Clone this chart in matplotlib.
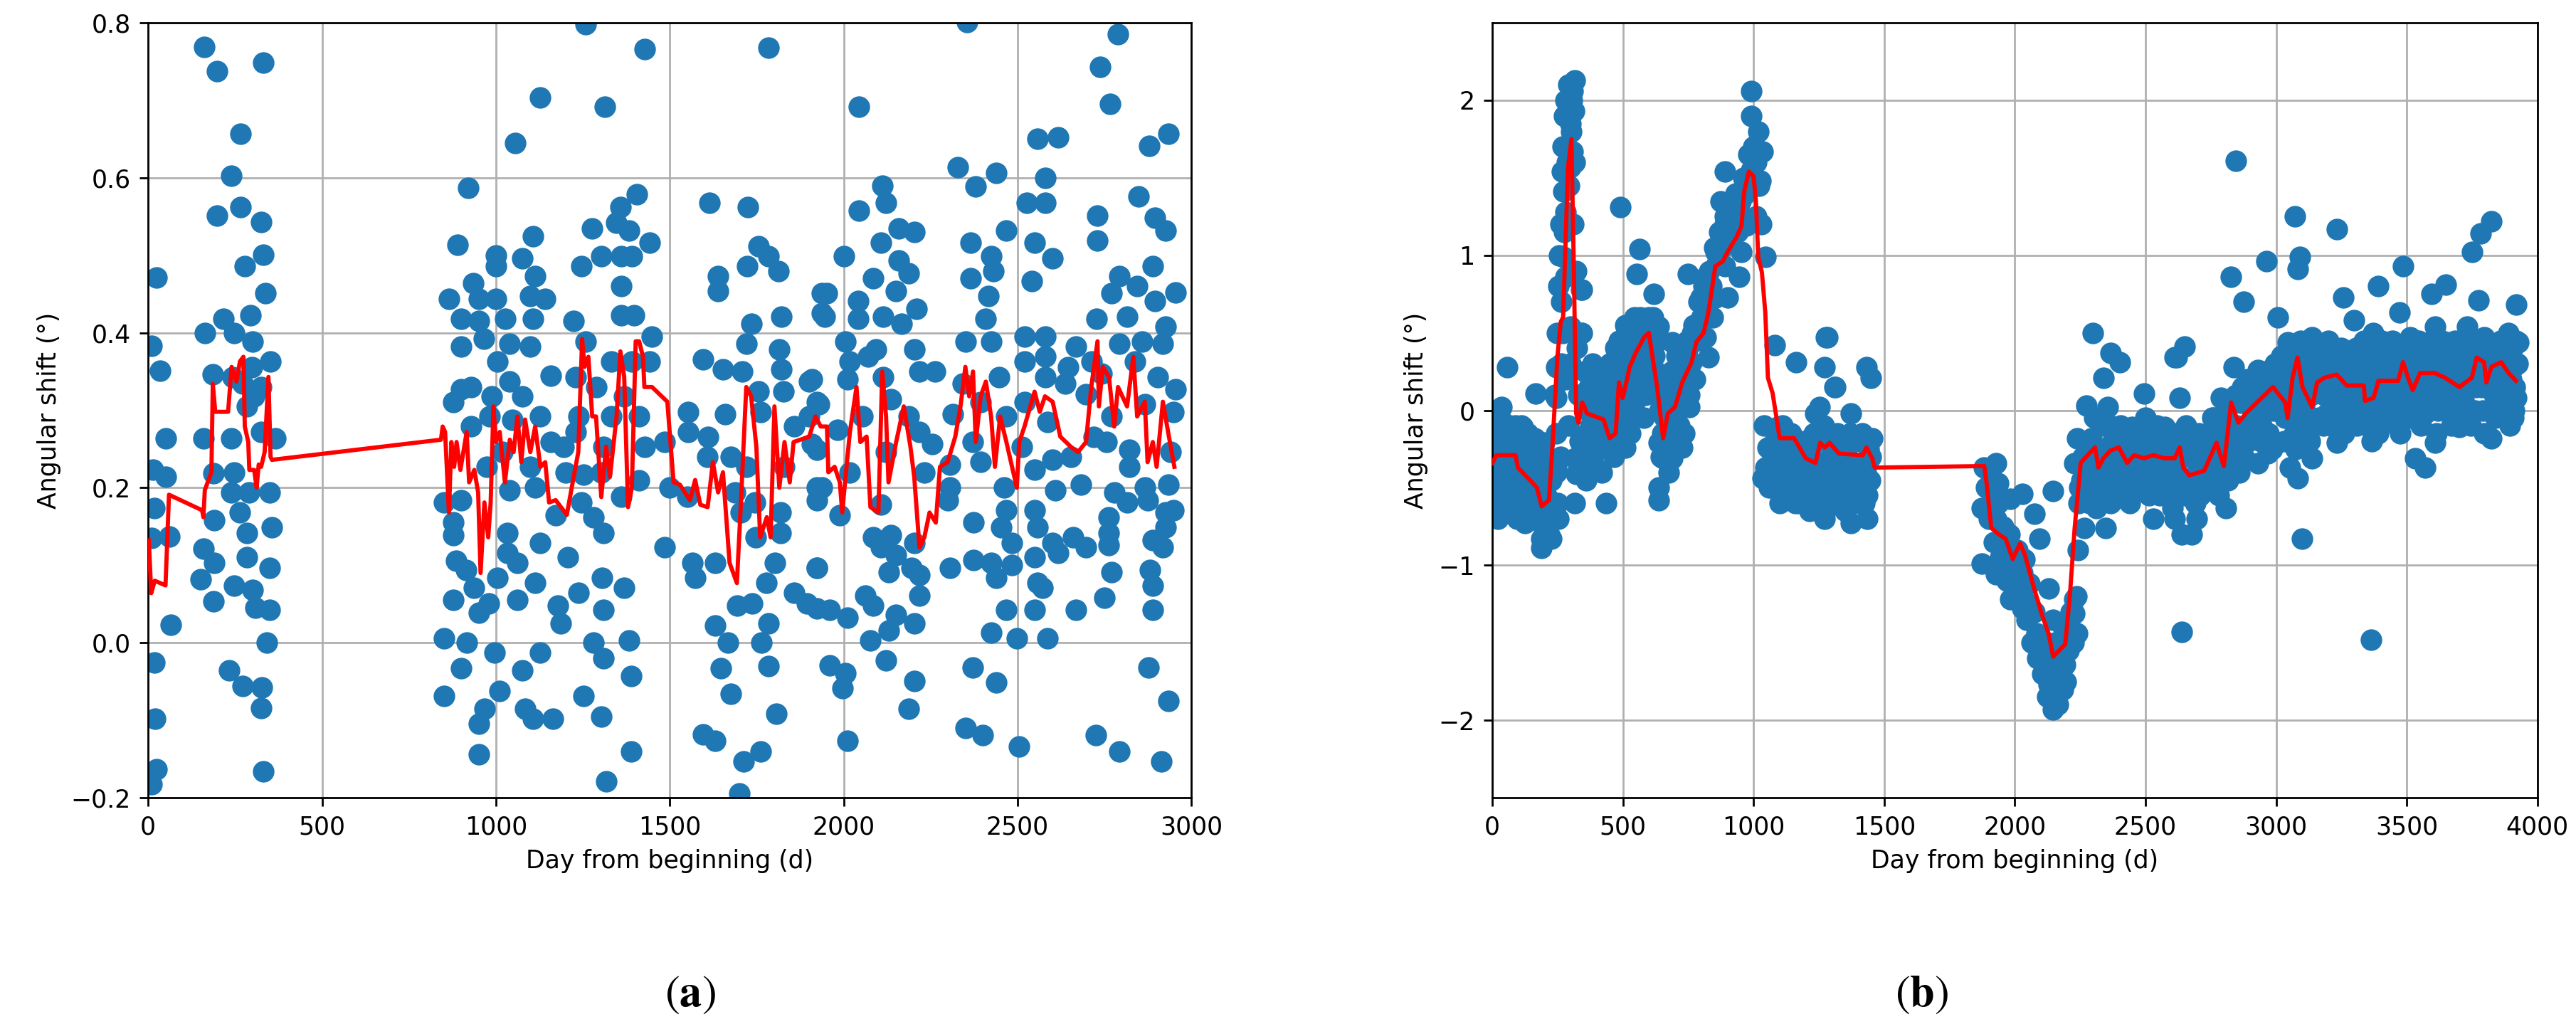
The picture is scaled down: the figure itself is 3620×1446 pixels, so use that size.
import numpy as np
import matplotlib.pyplot as plt

# ---- (a) scatter points, (day, angular shift) ----
a_first = [
    (162, 0.769), (199, 0.738), (332, 0.749), (265, 0.657), (240, 0.603), (199, 0.551),
    (265, 0.562), (325, 0.543), (332, 0.501), (278, 0.486), (25, 0.471), (337, 0.451),
    (295, 0.423), (216, 0.418), (163, 0.40), (247, 0.40), (301, 0.389), (10, 0.383),
    (35, 0.351), (352, 0.363), (186, 0.346), (244, 0.343), (271, 0.334), (298, 0.356),
    (305, 0.318), (284, 0.305), (325, 0.33), (51, 0.264), (159, 0.264), (240, 0.264),
    (366, 0.264), (325, 0.272), (14, 0.223), (51, 0.214), (188, 0.219), (247, 0.22),
    (240, 0.194), (291, 0.194), (349, 0.194), (18, 0.174), (189, 0.158), (264, 0.168),
    (356, 0.149), (61, 0.137), (10, 0.135), (159, 0.121), (189, 0.103), (284, 0.142),
    (284, 0.11), (349, 0.097), (152, 0.082), (247, 0.074), (301, 0.068), (188, 0.053),
    (308, 0.045), (349, 0.042), (65, 0.023), (342, 0.0), (18, -0.026), (233, -0.036),
    (271, -0.056), (328, -0.058), (325, -0.084), (20, -0.098), (332, -0.166),
    (25, -0.163), (10, -0.183),
]
a_second = [
    (1259, 0.798), (1427, 0.766), (1128, 0.704), (1314, 0.692), (1055, 0.645), (921, 0.587),
    (1785, 0.768), (1405, 0.579), (1358, 0.562), (1615, 0.568), (1725, 0.562), (1277, 0.535),
    (1347, 0.542), (1383, 0.532), (1442, 0.516), (890, 0.514), (1000, 0.50), (1077, 0.496),
    (1106, 0.525), (1245, 0.486), (1303, 0.499), (1361, 0.499), (1391, 0.499), (1000, 0.486),
    (1639, 0.473), (1755, 0.512), (1723, 0.486), (1783, 0.499), (1812, 0.48), (1113, 0.473),
    (934, 0.464), (1361, 0.46), (1639, 0.454), (865, 0.444), (952, 0.444), (1000, 0.444),
    (1099, 0.447), (1142, 0.444), (1938, 0.451), (900, 0.418), (952, 0.415), (1026, 0.418),
    (1106, 0.418), (1223, 0.415), (1361, 0.423), (1398, 0.423), (1821, 0.421), (1938, 0.425),
    (1734, 0.412), (900, 0.382), (966, 0.392), (1040, 0.386), (1099, 0.382), (1259, 0.389),
    (1449, 0.395), (1720, 0.386), (1815, 0.379), (1596, 0.366), (1004, 0.363), (1157, 0.345),
    (1230, 0.343), (1332, 0.363), (1391, 0.363), (1442, 0.363), (1653, 0.353), (1709, 0.35),
    (1821, 0.353), (1901, 0.337), (1040, 0.337), (900, 0.327), (929, 0.33), (988, 0.318),
    (1077, 0.318), (1288, 0.33), (1369, 0.318), (1755, 0.324), (1828, 0.324), (878, 0.311),
    (1923, 0.311), (1552, 0.298), (1660, 0.295), (982, 0.292), (1048, 0.288), (1128, 0.292),
    (1237, 0.292), (1332, 0.292), (1412, 0.292), (1762, 0.298), (1901, 0.292), (929, 0.279),
    (1230, 0.272), (1552, 0.272), (1610, 0.266), (1858, 0.279), (1157, 0.259), (1018, 0.246),
    (1194, 0.253), (1310, 0.253), (1427, 0.253), (1485, 0.259), (1675, 0.24), (1923, 0.249),
    (974, 0.227), (1099, 0.227), (1201, 0.22), (1252, 0.217), (1303, 0.22), (1412, 0.21),
    (1609, 0.24), (1720, 0.227), (1830, 0.227), (1923, 0.2), (850, 0.181), (900, 0.184),
    (1040, 0.197), (1113, 0.2), (1245, 0.181), (1361, 0.188), (1500, 0.2), (1551, 0.188),
    (1688, 0.194), (1745, 0.181), (1818, 0.168), (878, 0.155), (1172, 0.165), (1281, 0.162),
    (1704, 0.168), (1033, 0.142), (1310, 0.142), (1818, 0.142), (878, 0.139), (1485, 0.123),
    (1748, 0.136), (1033, 0.116), (1128, 0.129), (1208, 0.11), (885, 0.106), (914, 0.094),
    (1062, 0.103), (1566, 0.103), (1631, 0.103), (1803, 0.103), (1923, 0.097), (936, 0.071),
    (1004, 0.084), (1113, 0.077), (1306, 0.084), (1573, 0.084), (1777, 0.077), (1858, 0.064),
    (1368, 0.071), (878, 0.055), (951, 0.039), (980, 0.051), (1062, 0.055), (1179, 0.048),
    (1237, 0.064), (1310, 0.042), (1894, 0.051), (1693, 0.048), (1737, 0.051), (1186, 0.025),
    (850, 0.006), (916, 0.0), (1631, 0.022), (1784, 0.025), (1763, 0.0), (1281, 0.0),
    (1383, 0.003), (1667, 0.0), (996, -0.013), (1128, -0.013), (901, -0.033), (1077, -0.036),
    (1310, -0.02), (1646, -0.033), (1784, -0.03), (1390, -0.043), (850, -0.069),
    (1011, -0.062), (1252, -0.069), (1675, -0.066), (1806, -0.092), (967, -0.085),
    (1084, -0.085), (1106, -0.098), (1164, -0.098), (1303, -0.095), (952, -0.105),
    (1595, -0.118), (1631, -0.127), (952, -0.144), (1390, -0.14), (1762, -0.14),
    (1712, -0.153), (1317, -0.179), (1700, -0.195),
]
a_third = [
    (2354, 0.801), (2789, 0.785), (2737, 0.743), (2767, 0.695), (2043, 0.692), (2933, 0.657),
    (2878, 0.641), (2557, 0.65), (2616, 0.652), (2328, 0.614), (2439, 0.606), (2380, 0.589),
    (2579, 0.6), (2111, 0.59), (2044, 0.558), (2122, 0.568), (2527, 0.568), (2579, 0.568),
    (2848, 0.576), (2730, 0.551), (2896, 0.548), (2925, 0.532), (2159, 0.535), (2203, 0.53),
    (2468, 0.532), (2730, 0.519), (2365, 0.516), (2549, 0.516), (2107, 0.516), (2000, 0.499),
    (2424, 0.499), (2601, 0.496), (2159, 0.493), (2431, 0.48), (2188, 0.477), (2085, 0.47),
    (2365, 0.47), (2542, 0.467), (2793, 0.473), (2889, 0.486), (2955, 0.452), (1952, 0.451),
    (2041, 0.441), (2151, 0.454), (2416, 0.447), (2770, 0.451), (2896, 0.441), (2844, 0.46),
    (2210, 0.431), (1945, 0.421), (2041, 0.418), (2114, 0.421), (2409, 0.418), (2727, 0.418),
    (2815, 0.421), (2926, 0.408), (2166, 0.412), (2350, 0.389), (2424, 0.389), (2520, 0.395),
    (2579, 0.395), (2667, 0.382), (2793, 0.386), (2918, 0.386), (2004, 0.389), (2092, 0.379),
    (2203, 0.379), (2859, 0.389), (2018, 0.363), (2070, 0.369), (2520, 0.363), (2579, 0.369),
    (2837, 0.363), (2712, 0.363), (2645, 0.356), (2218, 0.35), (2262, 0.35), (1908, 0.34),
    (2011, 0.34), (2114, 0.343), (2446, 0.343), (2579, 0.343), (2741, 0.347), (2904, 0.343),
    (2343, 0.334), (2638, 0.334), (2955, 0.327), (1930, 0.308), (2136, 0.314), (2394, 0.311),
    (2520, 0.311), (2697, 0.321), (2866, 0.308), (2948, 0.298), (2313, 0.295), (2055, 0.292),
    (2188, 0.292), (2468, 0.292), (2586, 0.285), (2770, 0.292), (1982, 0.275), (2218, 0.272),
    (2254, 0.256), (2719, 0.266), (2756, 0.259), (2372, 0.259), (2512, 0.253), (1908, 0.256),
    (2822, 0.249), (2122, 0.246), (2601, 0.236), (2653, 0.24), (2940, 0.246), (2018, 0.22),
    (2306, 0.23), (2394, 0.233), (2822, 0.227), (2232, 0.22), (2549, 0.223), (2682, 0.204),
    (2933, 0.204), (1938, 0.2), (2306, 0.2), (2461, 0.2), (2866, 0.2), (2778, 0.194),
    (2608, 0.197), (1923, 0.184), (2107, 0.178), (2299, 0.184), (2815, 0.181), (2874, 0.184),
    (2948, 0.171), (1989, 0.165), (2468, 0.171), (2549, 0.171), (2925, 0.168), (2763, 0.162),
    (2373, 0.155), (2454, 0.149), (2557, 0.149), (2925, 0.149), (2763, 0.142), (2085, 0.136),
    (2136, 0.139), (2660, 0.136), (2889, 0.132), (2203, 0.129), (2107, 0.123), (2483, 0.129),
    (2601, 0.129), (2697, 0.123), (2763, 0.126), (2918, 0.123), (2151, 0.113), (2549, 0.11),
    (2616, 0.116), (1923, 0.097), (2196, 0.097), (2306, 0.097), (2373, 0.107), (2424, 0.103),
    (2483, 0.1), (2881, 0.094), (2129, 0.091), (2770, 0.091), (2218, 0.087), (2439, 0.084),
    (2557, 0.077), (2889, 0.074), (2063, 0.061), (2218, 0.061), (2749, 0.058), (2571, 0.071),
    (1923, 0.044), (1960, 0.042), (2085, 0.048), (2151, 0.036), (2468, 0.042), (2549, 0.042),
    (2667, 0.042), (2889, 0.042), (2011, 0.032), (2203, 0.025), (2129, 0.016), (2424, 0.013),
    (2498, 0.006), (2586, 0.006), (2077, 0.003), (1960, -0.029), (2004, -0.039),
    (2122, -0.023), (2372, -0.032), (2877, -0.032), (1996, -0.059), (2203, -0.049),
    (2439, -0.051), (2188, -0.085), (2933, -0.075), (2350, -0.11), (2399, -0.119),
    (2726, -0.119), (2011, -0.127), (2505, -0.134), (2793, -0.14), (2914, -0.153),
]

# ---- (a) red running line ----
a_line = [
    (2, 0.132), (9, 0.064), (19, 0.08), (50, 0.074), (60, 0.191), (155, 0.171), (159, 0.162),
    (163, 0.197), (182, 0.22), (186, 0.334), (193, 0.298), (230, 0.298), (240, 0.356),
    (254, 0.337), (264, 0.363), (274, 0.369), (278, 0.279), (288, 0.259), (291, 0.223),
    (305, 0.223), (312, 0.2), (318, 0.23), (325, 0.227), (335, 0.246), (346, 0.343),
    (352, 0.24), (356, 0.236), (842, 0.262), (847, 0.279), (854, 0.272), (865, 0.168),
    (872, 0.259), (880, 0.227), (887, 0.259), (898, 0.223), (916, 0.272), (923, 0.207),
    (938, 0.223), (949, 0.194), (956, 0.09), (967, 0.181), (978, 0.136), (985, 0.181),
    (993, 0.305), (1000, 0.259), (1011, 0.272), (1026, 0.207), (1040, 0.262), (1051, 0.246),
    (1062, 0.292), (1073, 0.233), (1084, 0.288), (1099, 0.246), (1113, 0.279), (1128, 0.227),
    (1142, 0.233), (1153, 0.181), (1172, 0.184), (1204, 0.165), (1218, 0.2), (1237, 0.246),
    (1248, 0.392), (1255, 0.356), (1266, 0.369), (1277, 0.292), (1288, 0.292), (1303, 0.188),
    (1317, 0.253), (1328, 0.214), (1347, 0.292), (1358, 0.376), (1369, 0.343), (1380, 0.175),
    (1391, 0.2), (1402, 0.389), (1412, 0.389), (1423, 0.369), (1427, 0.33), (1449, 0.33),
    (1493, 0.311), (1511, 0.207), (1529, 0.204), (1558, 0.184), (1573, 0.21), (1588, 0.178),
    (1609, 0.175), (1624, 0.233), (1639, 0.194), (1653, 0.22), (1672, 0.103), (1693, 0.077),
    (1704, 0.175), (1720, 0.33), (1734, 0.318), (1749, 0.253), (1760, 0.136), (1779, 0.162),
    (1790, 0.136), (1801, 0.305), (1815, 0.2), (1830, 0.259), (1845, 0.207), (1856, 0.259),
    (1901, 0.266), (1919, 0.292), (1934, 0.279), (1952, 0.279), (1956, 0.22), (1974, 0.227),
    (1989, 0.207), (1996, 0.168), (2004, 0.207), (2018, 0.272), (2037, 0.33), (2048, 0.259),
    (2066, 0.266), (2077, 0.175), (2100, 0.168), (2111, 0.35), (2122, 0.292), (2129, 0.207),
    (2151, 0.259), (2173, 0.305), (2192, 0.253), (2203, 0.214), (2218, 0.123), (2232, 0.136),
    (2247, 0.168), (2265, 0.155), (2277, 0.227), (2299, 0.233), (2321, 0.266), (2336, 0.305),
    (2350, 0.356), (2361, 0.318), (2372, 0.35), (2380, 0.259), (2394, 0.318), (2409, 0.337),
    (2424, 0.292), (2435, 0.227), (2450, 0.292), (2468, 0.259), (2498, 0.2), (2505, 0.259),
    (2520, 0.279), (2549, 0.324), (2564, 0.298), (2579, 0.318), (2601, 0.311), (2623, 0.266),
    (2653, 0.253), (2674, 0.246), (2697, 0.259), (2712, 0.33), (2730, 0.389), (2734, 0.305),
    (2745, 0.356), (2763, 0.343), (2778, 0.279), (2789, 0.33), (2815, 0.305), (2833, 0.369),
    (2844, 0.292), (2866, 0.311), (2874, 0.233), (2889, 0.259), (2900, 0.227), (2918, 0.311),
    (2933, 0.272), (2951, 0.227),
]

# ---- (b) scatter points ----
b_start = [
    (57, 0.28), (167, 0.11), (35, 0.02), (16, -0.11), (71, -0.15), (117, -0.11), (162, -0.18),
    (199, -0.21), (26, -0.28), (89, -0.31), (144, -0.34), (53, -0.41), (7, -0.5), (117, -0.47),
    (62, -0.57), (16, -0.63), (126, -0.73), (162, -0.67), (189, -0.83), (217, -0.8), (35, -0.44),
    (80, -0.15), (44, -0.21), (5, -0.2), (10, -0.35), (20, -0.45), (30, -0.05), (40, -0.3),
    (50, -0.55), (60, -0.2), (70, -0.4), (80, -0.6), (90, -0.1), (100, -0.45), (110, -0.25),
    (120, -0.55), (130, -0.35), (140, -0.6), (150, -0.2), (160, -0.45), (170, -0.55),
    (180, -0.65), (190, -0.4), (200, -0.5), (210, -0.7), (220, -0.6), (15, -0.6), (45, -0.65),
    (75, -0.5), (105, -0.65), (135, -0.15), (165, -0.3), (195, -0.75), (225, -0.45),
    (25, -0.15), (55, -0.35), (85, -0.25), (115, -0.4), (145, -0.5), (175, -0.2), (205, -0.35),
    (3, -0.4), (8, -0.55), (12, -0.25), (22, -0.7), (28, -0.35), (33, -0.55), (38, -0.15),
    (48, -0.45), (58, -0.65), (65, -0.3), (68, -0.1), (78, -0.35), (88, -0.5), (95, -0.7),
    (98, -0.3), (108, -0.55), (112, -0.1), (125, -0.3), (128, -0.65), (138, -0.45),
    (148, -0.7), (155, -0.35), (158, -0.6), (168, -0.4), (178, -0.5), (185, -0.3), (198, -0.6),
    (208, -0.55), (215, -0.45), (228, -0.7),
]
b_spike = [
    (317, 2.13), (308, 2.06), (312, 1.93), (303, 1.8), (308, 1.67), (267, 1.54), (299, 1.57),
    (271, 1.41), (280, 1.28), (276, 1.15), (271, 0.99), (280, 0.86), (340, 0.78), (253, 0.8),
    (249, 0.5), (340, 0.5), (299, 0.54), (244, 0.28), (244, 0.08), (244, -0.15), (244, -0.37),
    (253, -0.7), (226, -0.83), (189, -0.89), (317, -0.31), (321, -0.41), (317, -0.6),
    (255, 1.0), (260, 1.2), (265, 0.7), (270, 1.7), (275, 1.9), (280, 2.0), (285, 1.6),
    (290, 2.1), (295, 1.45), (300, 1.85), (305, 2.0), (310, 1.2), (315, 1.6), (320, 0.9),
    (325, 0.4), (330, 0.1), (335, -0.2), (240, 0.1), (245, -0.4), (250, -0.6), (260, -0.3),
    (265, 0.3), (270, 0.5), (280, 0.2), (290, -0.1), (300, 0.3),
]
b_rise = [
    (490, 1.31), (563, 1.04), (554, 0.88), (750, 0.88), (618, 0.75), (599, 0.6), (545, 0.6),
    (344, 0.78), (344, 0.5), (690, 0.44), (636, 0.54), (572, 0.47), (508, 0.41), (435, 0.28),
    (408, 0.18), (362, 0.11), (490, 0.15), (554, 0.21), (545, 0.05), (417, -0.02), (472, -0.08),
    (362, -0.15), (453, -0.24), (508, -0.24), (527, -0.15), (581, -0.05), (636, 0.08),
    (636, -0.21), (654, -0.31), (690, -0.31), (727, -0.24), (708, -0.11), (636, -0.5),
    (636, -0.58), (435, -0.6), (754, 0.02), (727, 0.21), (763, 0.31), (781, 0.54), (827, 0.34),
    (799, 0.73), (818, 0.86), (854, 1.02), (891, 1.54), (873, 1.35), (891, 1.25), (918, 1.35),
    (909, 1.12), (891, 0.93), (854, 0.73), (900, 0.73), (945, 0.86), (954, 1.02), (991, 2.06),
    (991, 1.9), (1018, 1.8), (1036, 1.67), (1027, 1.48), (1009, 1.25), (1046, 0.99),
    (973, 1.19), (945, 1.28), (845, 0.6), (818, 0.47),
    (350, -0.2), (365, 0.0), (380, -0.3), (395, -0.1), (410, 0.05), (425, -0.2), (440, 0.1),
    (455, -0.05), (465, -0.3), (480, 0.2), (495, 0.0), (505, 0.3), (515, 0.1), (530, 0.4),
    (540, 0.25), (550, 0.5), (560, 0.35), (570, 0.15), (580, 0.55), (590, 0.3), (600, 0.45),
    (610, 0.2), (620, 0.35), (630, 0.1), (640, 0.0), (650, -0.15), (660, -0.05), (670, 0.05),
    (680, -0.1), (690, 0.1), (700, 0.0), (710, 0.2), (720, 0.1), (730, 0.3), (740, 0.2),
    (750, 0.4), (760, 0.3), (770, 0.55), (780, 0.45), (790, 0.7), (800, 0.6), (810, 0.8),
    (820, 0.7), (830, 0.9), (840, 0.8), (850, 1.05), (860, 0.95), (870, 1.15), (880, 1.05),
    (890, 1.2), (900, 1.1), (910, 1.3), (920, 1.2), (930, 1.4), (940, 1.15), (950, 1.35),
    (960, 1.5), (970, 1.4), (980, 1.65), (990, 1.55), (1000, 1.7), (1010, 1.6), (1020, 1.45),
    (1030, 1.2),
    (335, 0.1), (340, -0.35), (355, 0.25), (360, -0.45), (370, 0.15), (375, -0.1), (385, 0.3),
    (390, -0.35), (400, 0.0), (405, -0.25), (415, 0.2), (420, -0.4), (430, 0.05), (445, -0.15),
    (450, 0.3), (460, 0.1), (470, 0.4), (475, -0.2), (485, 0.45), (500, -0.1), (510, 0.55),
    (520, -0.05), (525, 0.25), (535, 0.1), (545, 0.35), (555, 0.2), (565, 0.6), (575, 0.4),
    (585, 0.1), (595, 0.55), (605, 0.4), (615, 0.6), (625, 0.25), (635, 0.45), (645, -0.3),
    (655, 0.2), (665, -0.25), (675, -0.4), (685, 0.25), (695, -0.2), (705, 0.35), (715, -0.1),
    (725, 0.05), (735, -0.15), (745, 0.45), (755, 0.1), (765, 0.5), (775, 0.2),
]
b_plateau = [
    (1082, 0.42), (1164, 0.31), (1282, 0.47), (1273, 0.28), (1310, 0.15), (1237, -0.02),
    (1091, -0.11), (1055, -0.24), (1046, -0.37), (1155, -0.24), (1200, -0.44), (1191, -0.6),
    (1273, -0.67), (1328, -0.57), (1301, -0.31), (1073, -0.31), (1036, -0.44), (1277, 0.47),
    (1313, 0.15), (1432, 0.28), (1450, 0.21), (1254, 0.02), (1372, -0.02), (1454, -0.18),
    (1290, -0.31), (1354, -0.37), (1418, -0.44), (1263, -0.54), (1327, -0.57), (1418, -0.57),
    (1272, -0.7), (1372, -0.73), (1436, -0.7),
    (1105, -0.25), (1115, -0.4), (1125, -0.55), (1135, -0.3), (1145, -0.15), (1165, -0.45),
    (1175, -0.6), (1185, -0.35), (1195, -0.2), (1210, -0.5), (1220, -0.3), (1230, -0.15),
    (1240, -0.45), (1250, -0.6), (1260, -0.35), (1270, -0.1), (1280, -0.4), (1295, -0.55),
    (1305, -0.25), (1315, -0.45), (1320, -0.15), (1335, -0.4), (1345, -0.5), (1360, -0.3),
    (1365, -0.6), (1380, -0.45), (1390, -0.2), (1400, -0.5), (1410, -0.35), (1425, -0.6),
    (1440, -0.25), (1445, -0.45),
    (1040, -0.1), (1060, -0.5), (1080, -0.2), (1090, -0.45), (1100, -0.6), (1110, -0.1),
    (1130, -0.45), (1150, -0.35), (1160, -0.6), (1170, -0.2), (1180, -0.5), (1205, -0.25),
    (1215, -0.65), (1225, -0.4), (1235, -0.55), (1245, -0.2), (1255, -0.45), (1265, -0.6),
    (1285, -0.2), (1300, -0.45), (1310, -0.6), (1325, -0.3), (1340, -0.2), (1350, -0.65),
    (1370, -0.15), (1385, -0.55), (1395, -0.35), (1405, -0.6), (1415, -0.15), (1430, -0.4),
    (1435, -0.55), (1448, -0.3),
]
b_dip = [
    (1928, -0.34), (1883, -0.37), (1937, -0.47), (1874, -0.63), (1928, -0.7), (1983, -0.57),
    (2029, -0.54), (2147, -0.52), (2074, -0.67), (2093, -0.83), (1965, -0.86), (1874, -0.99),
    (1928, -1.06), (1983, -1.02), (2038, -0.96), (2056, -1.12), (1983, -1.22), (2029, -1.28),
    (2129, -1.15), (2084, -1.44), (2147, -1.35), (2111, -1.64), (2184, -1.51), (2229, -1.31),
    (2238, -1.44), (2129, -1.77), (2147, -1.93), (2184, -1.8), (2193, -1.64), (2229, -1.22),
    (1890, -0.5), (1900, -0.7), (1910, -0.45), (1920, -0.85), (1935, -0.6), (1945, -0.95),
    (1955, -0.75), (1970, -1.1), (1980, -0.8), (1990, -1.0), (2000, -1.2), (2010, -0.9),
    (2020, -1.15), (2030, -1.05), (2045, -1.35), (2055, -1.25), (2065, -1.5), (2075, -1.3),
    (2085, -1.6), (2095, -1.45), (2105, -1.7), (2115, -1.55), (2125, -1.85), (2135, -1.6),
    (2145, -1.75), (2155, -1.5), (2165, -1.9), (2175, -1.65), (2185, -1.4), (2195, -1.75),
    (2205, -1.55), (2215, -1.3), (2225, -1.5), (2235, -1.2), (2240, -0.9), (2245, -0.6),
]
b_recover = [
    (2298, 0.5), (2366, 0.37), (2402, 0.31), (2339, 0.21), (2275, 0.03), (2357, 0.02),
    (2494, 0.11), (2238, -0.18), (2293, -0.18), (2384, -0.15), (2448, -0.11), (2512, -0.15),
    (2229, -0.34), (2329, -0.31), (2421, -0.37), (2512, -0.37), (2247, -0.5), (2311, -0.63),
    (2366, -0.6), (2439, -0.6), (2530, -0.7), (2348, -0.76), (2266, -0.76), (2621, 0.34),
    (2630, 0.08), (2621, -0.15), (2603, -0.63), (2639, -0.8), (2639, -1.43),
    (2612, 0.34), (2650, 0.41), (2837, 0.28), (2931, 0.26), (2574, -0.11), (2668, -0.15),
    (2762, -0.05), (2856, -0.24), (2931, -0.34), (2603, -0.37), (2697, -0.5), (2809, -0.63),
    (2678, -0.8), (2612, -0.7), (2743, -0.28), (2903, 0.02), (2790, 0.08), (2818, -0.31),
    (2697, -0.7), (2847, 1.61), (2964, 0.96), (2828, 0.86), (2875, 0.7),
    (2260, -0.3), (2280, -0.45), (2300, -0.25), (2315, -0.4), (2330, -0.1), (2345, -0.5),
    (2360, -0.3), (2375, -0.2), (2390, -0.45), (2405, -0.1), (2415, -0.55), (2430, -0.25),
    (2445, -0.4), (2460, -0.2), (2470, -0.5), (2485, -0.3), (2500, -0.05), (2520, -0.45),
    (2540, -0.25), (2555, -0.55), (2565, -0.35), (2580, -0.15), (2595, -0.45), (2615, -0.3),
    (2625, -0.5), (2650, -0.2), (2665, -0.45), (2680, -0.3), (2690, -0.6), (2705, -0.15),
    (2715, -0.4), (2730, -0.25), (2750, -0.5), (2760, -0.15), (2775, -0.4), (2785, -0.25),
    (2800, -0.1), (2815, -0.45), (2830, -0.2), (2845, 0.1), (2860, -0.4), (2870, 0.15),
    (2880, -0.15), (2890, 0.2), (2910, -0.1), (2920, 0.05), (2940, -0.2), (2950, 0.25),
    (2960, 0.0), (2975, 0.1), (2985, -0.25), (2995, 0.3),
    (2255, -0.45), (2270, -0.2), (2285, -0.6), (2295, -0.35), (2305, -0.05), (2320, -0.55),
    (2335, -0.25), (2350, -0.4), (2365, -0.1), (2380, -0.55), (2395, -0.25), (2410, -0.4),
    (2425, -0.55), (2440, -0.15), (2455, -0.5), (2465, -0.3), (2480, -0.45), (2490, -0.15),
    (2505, -0.3), (2515, -0.55), (2525, -0.2), (2535, -0.4), (2545, -0.1), (2560, -0.3),
    (2570, -0.5), (2585, -0.35), (2600, -0.2), (2610, -0.5), (2620, -0.4), (2635, -0.3),
    (2645, -0.55), (2655, -0.1), (2670, -0.3), (2685, -0.15), (2695, -0.4), (2710, -0.55),
    (2720, -0.2), (2735, -0.45), (2745, -0.3), (2755, -0.05), (2770, -0.3), (2780, -0.55),
    (2795, -0.35), (2805, 0.0), (2820, -0.15), (2835, -0.4), (2850, -0.1), (2865, 0.05),
    (2875, -0.3), (2885, 0.1), (2895, -0.2), (2905, 0.15), (2915, -0.05), (2930, 0.15),
    (2945, -0.1), (2955, 0.1), (2970, -0.15), (2980, 0.2), (2990, 0.0),
]
b_late = [
    (3072, 1.25), (3232, 1.17), (3824, 1.22), (3782, 1.14), (3749, 1.02), (3091, 0.99),
    (3082, 0.91), (3486, 0.93), (3392, 0.8), (3256, 0.73), (3650, 0.81), (3594, 0.75),
    (3776, 0.71), (3918, 0.68), (3007, 0.6), (3298, 0.58), (3472, 0.63), (3373, 0.5),
    (3730, 0.54), (3889, 0.5), (3044, 0.44), (3138, 0.47), (3213, 0.41), (3279, 0.31),
    (3420, 0.44), (3514, 0.47), (3608, 0.54), (3655, 0.44), (3796, 0.47), (3927, 0.44),
    (3909, 0.28), (3044, 0.21), (3119, 0.15), (3232, 0.18), (3401, 0.28), (3561, 0.21),
    (3702, 0.28), (3843, 0.21), (3918, 0.08), (3025, 0.02), (3100, -0.05), (3194, -0.02),
    (3289, -0.02), (3383, 0.02), (3477, 0.05), (3570, -0.02), (3655, 0.02), (3749, -0.02),
    (3862, 0.02), (3909, -0.05), (3702, -0.11), (3796, -0.15), (3824, -0.18), (3392, -0.15),
    (3467, -0.11), (3232, -0.21), (3138, -0.31), (3054, -0.37), (3082, -0.44), (3608, -0.21),
    (3533, -0.31), (3570, -0.37), (2969, -0.28), (3100, -0.83), (3364, -1.48),
    (3010, 0.3), (3015, 0.0), (3030, -0.2), (3050, 0.4), (3060, 0.1), (3070, -0.15),
    (3080, 0.25), (3095, 0.45), (3110, 0.05), (3120, 0.35), (3130, -0.2), (3145, 0.2),
    (3155, 0.4), (3165, -0.05), (3175, 0.3), (3185, 0.1), (3200, 0.45), (3210, -0.1),
    (3220, 0.3), (3240, 0.05), (3250, 0.4), (3260, -0.15), (3270, 0.2), (3285, 0.35),
    (3300, 0.1), (3310, -0.1), (3320, 0.3), (3335, 0.45), (3345, 0.05), (3355, 0.25),
    (3365, -0.2), (3380, 0.35), (3390, 0.1), (3405, 0.45), (3415, -0.05), (3430, 0.2),
    (3440, 0.35), (3450, 0.0), (3460, 0.3), (3475, -0.15), (3490, 0.4), (3500, 0.15),
    (3510, -0.05), (3520, 0.35), (3535, 0.1), (3545, 0.45), (3555, -0.1), (3565, 0.25),
    (3580, 0.4), (3590, 0.05), (3600, 0.3), (3615, -0.15), (3625, 0.2), (3635, 0.45),
    (3645, 0.0), (3660, 0.3), (3670, -0.1), (3680, 0.4), (3690, 0.15), (3710, 0.45),
    (3720, 0.05), (3735, 0.3), (3745, -0.1), (3755, 0.4), (3765, 0.15), (3780, 0.45),
    (3790, 0.0), (3800, 0.3), (3815, 0.15), (3830, 0.4), (3840, -0.05), (3850, 0.25),
    (3865, 0.45), (3875, 0.1), (3885, 0.3), (3895, -0.1), (3905, 0.4), (3915, 0.15),
    (3925, 0.3),
    (3005, 0.15), (3020, 0.35), (3035, -0.05), (3045, 0.25), (3055, 0.05), (3065, 0.35),
    (3075, -0.25), (3085, 0.1), (3090, 0.35), (3105, 0.2), (3115, -0.1), (3125, 0.45),
    (3135, 0.1), (3140, -0.05), (3150, 0.3), (3160, 0.15), (3170, 0.4), (3180, -0.1),
    (3190, 0.25), (3195, 0.35), (3205, 0.15), (3215, 0.4), (3225, 0.0), (3235, 0.3),
    (3245, 0.2), (3255, 0.0), (3265, 0.35), (3275, 0.1), (3280, -0.05), (3290, 0.25),
    (3305, 0.4), (3315, 0.15), (3325, 0.0), (3330, 0.2), (3340, 0.35), (3350, -0.1),
    (3360, 0.15), (3370, 0.3), (3385, -0.05), (3395, 0.4), (3400, 0.15), (3410, 0.3),
    (3420, 0.05), (3425, 0.4), (3435, 0.1), (3445, 0.45), (3455, 0.15), (3465, 0.05),
    (3470, 0.35), (3480, 0.2), (3495, 0.0), (3505, 0.3), (3515, 0.45), (3525, 0.05),
    (3530, 0.25), (3540, 0.35), (3550, 0.15), (3560, 0.0), (3575, 0.3), (3585, 0.15),
    (3595, 0.45), (3605, 0.1), (3610, 0.35), (3620, 0.0), (3630, 0.3), (3640, 0.15),
    (3650, 0.35), (3665, 0.05), (3675, 0.25), (3685, 0.45), (3695, -0.05), (3700, 0.35),
    (3715, 0.2), (3725, 0.35), (3730, -0.05), (3740, 0.2), (3750, 0.35), (3760, 0.0),
    (3770, 0.25), (3775, 0.4), (3785, 0.15), (3795, 0.3), (3805, 0.45), (3810, 0.0),
    (3820, 0.25), (3835, 0.1), (3845, 0.35), (3855, 0.0), (3860, 0.45), (3870, 0.2),
    (3880, 0.0), (3890, 0.4), (3900, 0.2), (3910, 0.0), (3920, 0.45),
]

# ---- (b) red running line ----
b_line = [
    (0, -0.34), (16, -0.29), (89, -0.29), (98, -0.37), (144, -0.45), (171, -0.5), (189, -0.62),
    (217, -0.58), (230, -0.24), (249, 0.34), (262, 0.57), (271, 0.6), (290, 1.57), (303, 1.75),
    (312, 0.93), (321, -0.02), (330, -0.08), (344, 0.05), (353, 0.02), (362, -0.02),
    (426, -0.06), (449, -0.18), (472, -0.15), (485, 0.18), (499, 0.08), (513, 0.18),
    (526, 0.28), (549, 0.37), (581, 0.47), (599, 0.5), (631, 0.15), (654, -0.18), (672, -0.02),
    (699, 0.02), (727, 0.18), (763, 0.31), (781, 0.44), (809, 0.5), (827, 0.63), (854, 0.93),
    (882, 0.96), (900, 1.02), (936, 1.12), (954, 1.19), (964, 1.41), (982, 1.54), (1000, 1.51),
    (1009, 1.35), (1018, 0.99), (1032, 0.89), (1045, 0.63), (1055, 0.21), (1073, 0.11),
    (1100, -0.18), (1155, -0.18), (1200, -0.31), (1237, -0.34), (1255, -0.21), (1273, -0.24),
    (1291, -0.21), (1327, -0.28), (1418, -0.29), (1432, -0.24), (1454, -0.31), (1464, -0.37),
    (1883, -0.36), (1892, -0.47), (1910, -0.76), (1938, -0.8), (1965, -0.83), (1992, -0.96),
    (2020, -0.86), (2038, -0.93), (2074, -1.15), (2102, -1.31), (2129, -1.44), (2147, -1.59),
    (2193, -1.51), (2211, -1.19), (2229, -0.76), (2252, -0.34), (2284, -0.28), (2307, -0.24),
    (2320, -0.37), (2339, -0.31), (2366, -0.26), (2398, -0.24), (2430, -0.34), (2457, -0.29),
    (2494, -0.31), (2530, -0.29), (2574, -0.31), (2612, -0.31), (2631, -0.24), (2645, -0.37),
    (2668, -0.42), (2725, -0.39), (2772, -0.21), (2800, -0.36), (2828, 0.05), (2856, -0.08),
    (2884, -0.02), (2988, 0.15), (3035, 0.05), (3044, -0.05), (3063, 0.21), (3082, 0.34),
    (3101, 0.15), (3138, 0.02), (3157, 0.18), (3185, 0.21), (3232, 0.23), (3270, 0.16),
    (3336, 0.16), (3340, 0.06), (3373, 0.08), (3392, 0.19), (3467, 0.19), (3486, 0.31),
    (3505, 0.21), (3523, 0.13), (3551, 0.24), (3608, 0.24), (3646, 0.21), (3702, 0.15),
    (3749, 0.21), (3768, 0.34), (3796, 0.31), (3805, 0.18), (3824, 0.28), (3862, 0.31),
    (3890, 0.24), (3918, 0.19),
]

a_pts = np.array(a_first + a_second + a_third)
b_pts = np.array(b_start + b_spike + b_rise + b_plateau + b_dip + b_recover + b_late)
a_ln = np.array(a_line)
b_ln = np.array(b_line)

fig = plt.figure(figsize=(14.48, 5.784), dpi=250)
ax1 = fig.add_axes([0.0575, 0.2248, 0.405, 0.753])
ax2 = fig.add_axes([0.5793, 0.2248, 0.4057, 0.753])

for ax, pts, ln in [(ax1, a_pts, a_ln), (ax2, b_pts, b_ln)]:
    ax.scatter(pts[:, 0], pts[:, 1], s=60, color='#1f77b4', zorder=2)
    ax.plot(ln[:, 0], ln[:, 1], color='red', lw=1.7, zorder=3)
    ax.grid(True)
    ax.set_axisbelow(True)
    ax.set_xlabel('Day from beginning (d)')
    ax.set_ylabel('Angular shift (°)')

ax1.set_xlim(0, 3000)
ax1.set_ylim(-0.2, 0.8)
ax1.set_xticks(np.arange(0, 3001, 500))
ax2.set_xlim(0, 4000)
ax2.set_ylim(-2.5, 2.5)
ax2.set_xticks(np.arange(0, 4001, 500))
ax2.set_yticks([-2, -1, 0, 1, 2])

plt.rcParams['mathtext.fontset'] = 'stix'
fig.text(0.268, 0.034, r'$\mathrm{(}\mathbf{a}\mathrm{)}$', fontsize=18, ha='center', va='center')
fig.text(0.746, 0.034, r'$\mathrm{(}\mathbf{b}\mathrm{)}$', fontsize=18, ha='center', va='center')

fig.savefig('out.png', dpi=250)
